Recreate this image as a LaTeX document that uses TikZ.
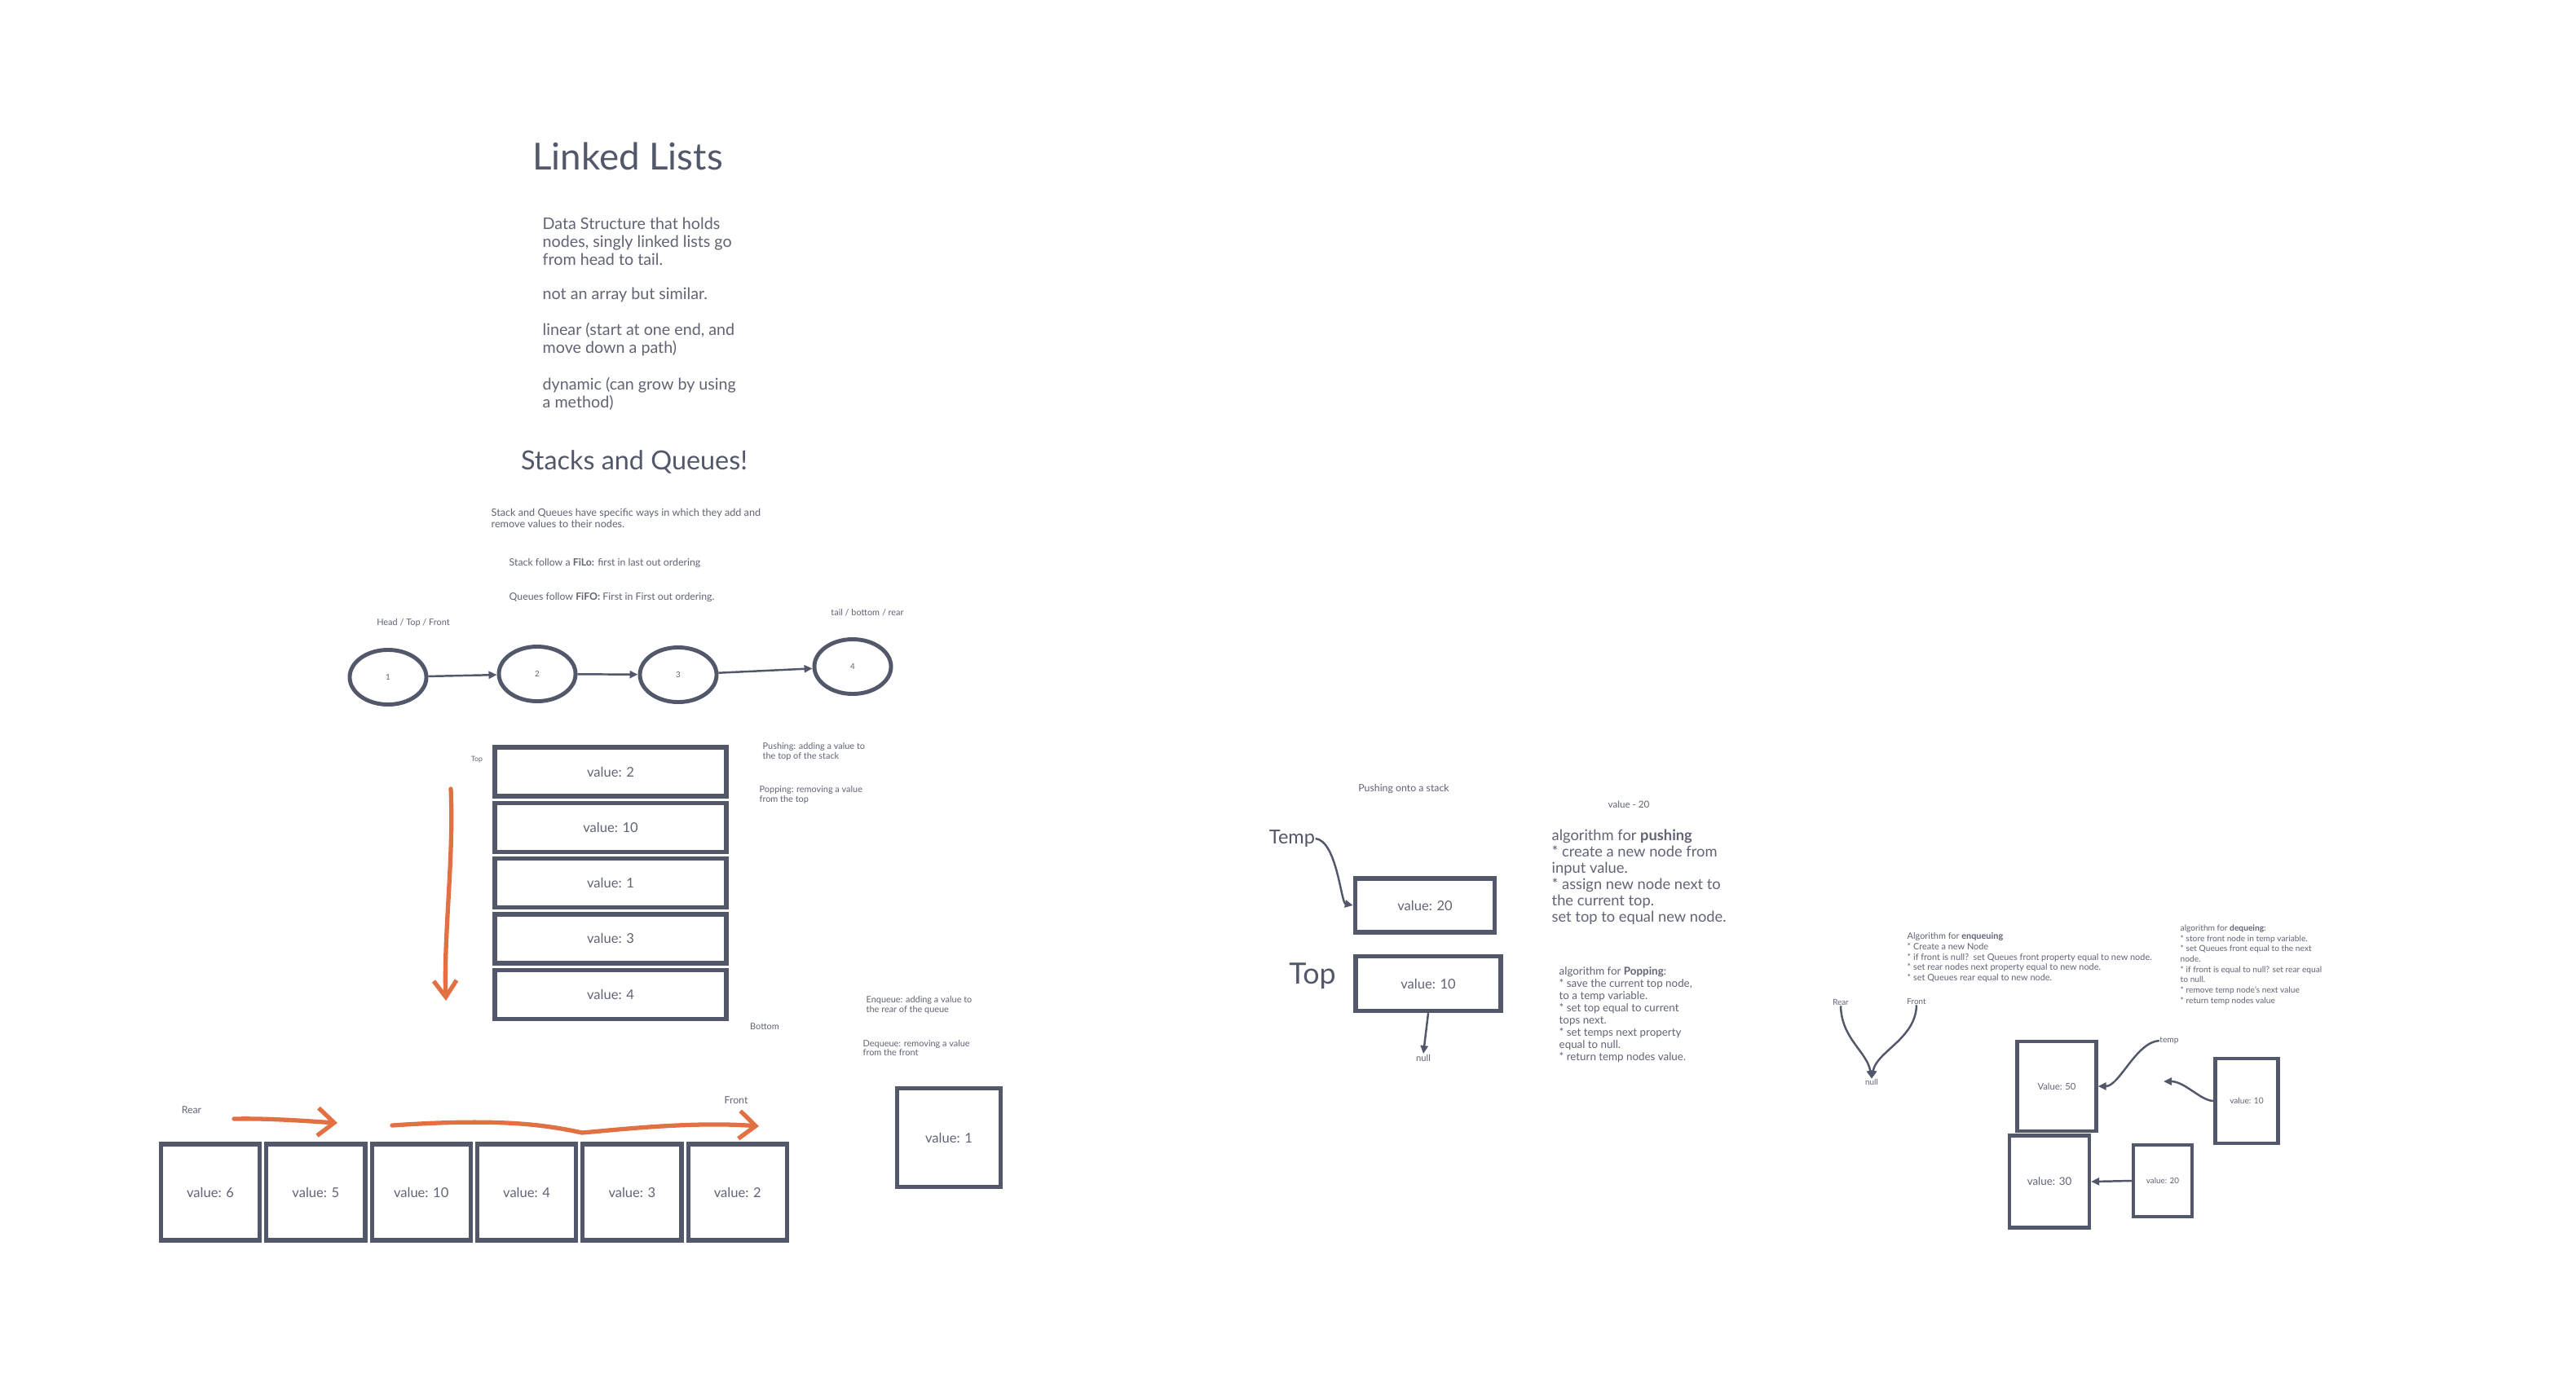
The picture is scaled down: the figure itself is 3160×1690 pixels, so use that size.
\documentclass[tikz,border=0pt]{standalone}
\usepackage{fontspec}
\setmainfont{Lato}
\usepackage{tikz}
\usetikzlibrary{shapes.geometric, arrows.meta, positioning}
\definecolor{slate}{RGB}{82,87,106}
\definecolor{inkgray}{RGB}{96,100,116}
\definecolor{rust}{RGB}{226,112,66}
\newcommand{\fsz}[2]{\fontsize{#1}{#2}\selectfont}

\begin{document}
\begin{tikzpicture}[
    x=0.01cm, y=-0.01cm,
    txt/.style={inner sep=0pt, text=inkgray, align=left, anchor=west},
    lbl/.style={inner sep=0pt, text=inkgray},
    headline/.style={inner sep=0pt, text=slate},
    vbox/.style={rectangle, draw=slate, line width=1.5pt, inner sep=0pt, text=inkgray, font=\fsz{4.7}{5}},
    qbox/.style={vbox, minimum width=1.21cm, minimum height=1.18cm},
    sbox/.style={vbox, minimum width=2.84cm, minimum height=0.6cm},
    rbox/.style={vbox, line width=1.2pt, font=\fsz{3.2}{4}},
    llnode/.style={ellipse, draw=slate, line width=1.4pt, inner sep=0pt, minimum width=0.94cm, minimum height=0.67cm, text=inkgray, font=\fsz{2.8}{3}},
    arr/.style={-{Triangle[length=0.1cm, width=0.09cm]}, line width=0.7pt, slate},
    orarr/.style={-{Straight Barb[length=0.2cm, width=0.34cm]}, line width=1.5pt, rust, line cap=round}
]
\fill[white] (0,0) rectangle (3160,1690);
\useasboundingbox (0,0) rectangle (3160,1690);

% linked lists notes
\node[headline, font=\fsz{13}{15}] (lltitle) at (770,192) {Linked Lists};
\node[txt, font=\fsz{5.6}{6.26}] (llnote1) at (665,296) {Data Structure that holds\\nodes, singly linked lists go\\from head to tail.};
\node[txt, font=\fsz{5.6}{6.26}] (llnote2) at (665,362) {not an array but similar.};
\node[txt, font=\fsz{5.6}{6.26}] (llnote3) at (665,417) {linear (start at one end, and\\move down a path)};
\node[txt, font=\fsz{5.6}{6.26}] (llnote4) at (665,483) {dynamic (can grow by using\\a method)};

\node[headline, font=\fsz{9.2}{11}] (sqtitle) at (778,567) {Stacks and Queues!};
\node[txt, font=\fsz{3.6}{4}] (sqnote) at (602,636) {Stack and Queues have specific ways in which they add and\\remove values to their nodes.};
\node[txt, font=\fsz{3.5}{4}] (filo) at (624,691) {Stack follow a \textbf{FiLo:} first in last out ordering};
\node[txt, font=\fsz{3.5}{4}] (fifo) at (624,733) {Queues follow \textbf{FiFO:} First in First out ordering.};

% linked list
\node[lbl, font=\fsz{3.1}{4}] (headlbl) at (507,764) {Head / Top / Front};
\node[lbl, font=\fsz{3.1}{4}] (taillbl) at (1064,752) {tail / bottom / rear};
\node[llnode] (ll1) at (476,831) {1};
\node[llnode] (ll2) at (659,827) {2};
\node[llnode] (ll3) at (832,828) {3};
\node[llnode] (ll4) at (1046,818) {4};
\draw[arr] (ll1) -- (ll2);
\draw[arr] (ll2) -- (ll3);
\draw[arr] (ll3) -- (ll4);

% stack
\node[sbox] (st2) at (749,947) {value: 2};
\node[sbox, below=0.03cm of st2] (st10) {value: 10};
\node[sbox, below=0.03cm of st10] (st1) {value: 1};
\node[sbox, below=0.03cm of st1] (st3) {value: 3};
\node[sbox, below=0.03cm of st3] (st4) {value: 4};
\node[lbl, font=\fsz{2.5}{3}] (sttop) at (585,932) {Top};
\node[lbl, font=\fsz{3.1}{4}] (stbottom) at (938,1260) {Bottom};
\coordinate (popa) at (553,968);
\coordinate (popb) at (547,1228);
\draw[orarr, -{Straight Barb[length=0.2cm, width=0.28cm]}] (popa) .. controls (557,1050) and (544,1150) .. (popb);
\node[txt, font=\fsz{3.1}{3.4}] (pushnote) at (935,922) {Pushing: adding a value to\\the top of the stack};
\node[txt, font=\fsz{3.1}{3.4}] (popnote) at (931,975) {Popping: removing a value\\from the top};

% queue
\node[txt, font=\fsz{3.1}{3.4}] (enqnote) at (1062,1233) {Enqueue: adding a value to\\the rear of the queue};
\node[txt, font=\fsz{3.1}{3.4}] (deqnote) at (1058,1286) {Dequeue: removing a value\\from the front};
\node[qbox] (q6) at (258,1463) {value: 6};
\node[qbox, right=0.03cm of q6] (q5) {value: 5};
\node[qbox, right=0.03cm of q5] (q10) {value: 10};
\node[qbox, right=0.03cm of q10] (q4) {value: 4};
\node[qbox, right=0.03cm of q4] (q3) {value: 3};
\node[qbox, right=0.03cm of q3] (q2) {value: 2};
\node[vbox, minimum width=1.27cm, minimum height=1.21cm] (q1) at (1164,1396) {value: 1};
\node[lbl, font=\fsz{3.5}{4}] (qrearlbl) at (235,1362) {Rear};
\node[lbl, font=\fsz{3.5}{4}] (qfrontlbl) at (903,1350) {Front};
\coordinate (enqa) at (287,1373);
\coordinate (enqb) at (414,1378);
\coordinate (enqc) at (481,1381);
\coordinate (enqd) at (931,1382);
\draw[orarr] (enqa) .. controls (330,1372) and (380,1376) .. (enqb);
\draw[orarr] (enqc) .. controls (600,1373) and (660,1378) .. (714,1390) .. controls (760,1386) and (850,1376) .. (enqd);

% pushing onto a stack
\node[lbl, font=\fsz{3.5}{4}] (pushlbl) at (1722,968) {Pushing onto a stack};
\node[lbl, font=\fsz{3.3}{4}] (val20lbl) at (1998,987) {value - 20};
\node[headline, font=\fsz{6.7}{8}] (templbl) at (1585,1029) {Temp};
\node[vbox, minimum width=1.71cm, minimum height=0.66cm] (pv20) at (1748,1111) {value: 20};
\node[headline, font=\fsz{10.2}{12}] (toplbl) at (1610,1198) {Top};
\node[vbox, minimum width=1.78cm, minimum height=0.67cm] (pv10) at (1752,1207) {value: 10};
\node[lbl, font=\fsz{3.2}{4}] (pnull) at (1746,1298) {null};
\draw[arr] (templbl.east) .. controls (1640,1032) and (1645,1108) .. (pv20.west);
\draw[arr] (pv10.south) -- (pnull.north);
\node[txt, font=\fsz{5.2}{5.7}] (pushalg) at (1903,1076) {algorithm for \textbf{pushing}\\* create a new node from\\input value.\\* assign new node next to\\the current top.\\set top to equal new node.};
\node[txt, font=\fsz{3.8}{4.27}] (popalg) at (1912,1245) {algorithm for \textbf{Popping}:\\* save the current top node,\\to a temp variable.\\* set top equal to current\\tops next.\\* set temps next property\\equal to null.\\* return temp nodes value.};

% queue algorithms
\node[txt, font=\fsz{3.1}{3.6}] (enqalg) at (2339,1175) {Algorithm for \textbf{enqueuing}\\* Create a new Node\\* if front is null?~~set Queues front property equal to new node.\\* set rear nodes next property equal to new node.\\* set Queues rear equal to new node.};
\node[txt, font=\fsz{2.9}{3.6}] (deqalg) at (2674,1184) {algorithm for \textbf{dequeing}:\\* store front node in temp variable.\\* set Queues front equal to the next\\node.\\* if front is equal to null? set rear equal\\to null.\\* remove temp node's next value\\* return temp nodes value};
\node[lbl, font=\fsz{2.8}{3}] (qrear) at (2258,1230) {Rear};
\node[lbl, font=\fsz{2.8}{3}] (qfront) at (2351,1229) {Front};
\node[lbl, font=\fsz{2.8}{3}] (qnull) at (2296,1328) {null};
\draw[arr] (qrear.south) .. controls (2259,1275) and (2290,1290) .. (qnull.north);
\draw[arr] (qfront.south) .. controls (2350,1275) and (2302,1290) .. (qnull.north);
\node[rbox, minimum width=0.97cm, minimum height=1.10cm] (qv50) at (2523,1333) {Value: 50};
\node[rbox, minimum width=0.98cm, minimum height=1.13cm, font=\fsz{3.8}{4}] (qv30) at (2514,1450) {value: 30};
\node[rbox, minimum width=0.77cm, minimum height=1.04cm, font=\fsz{2.9}{3}] (qv10) at (2756,1351) {value: 10};
\node[rbox, minimum width=0.72cm, minimum height=0.88cm, font=\fsz{2.8}{3}] (qv20) at (2653,1449) {value: 20};
\node[lbl, font=\fsz{2.9}{3}] (qtemp) at (2661,1277) {temp};
\coordinate (qfree) at (2654,1327);
\draw[arr] (qtemp.west) .. controls (2620,1279) and (2600,1333) .. (qv50.east);
\draw[arr] (qv10.west) .. controls (2700,1351) and (2680,1327) .. (qfree);
\draw[arr] (qv20.west) -- (qv30.east);

\end{tikzpicture}
\end{document}
